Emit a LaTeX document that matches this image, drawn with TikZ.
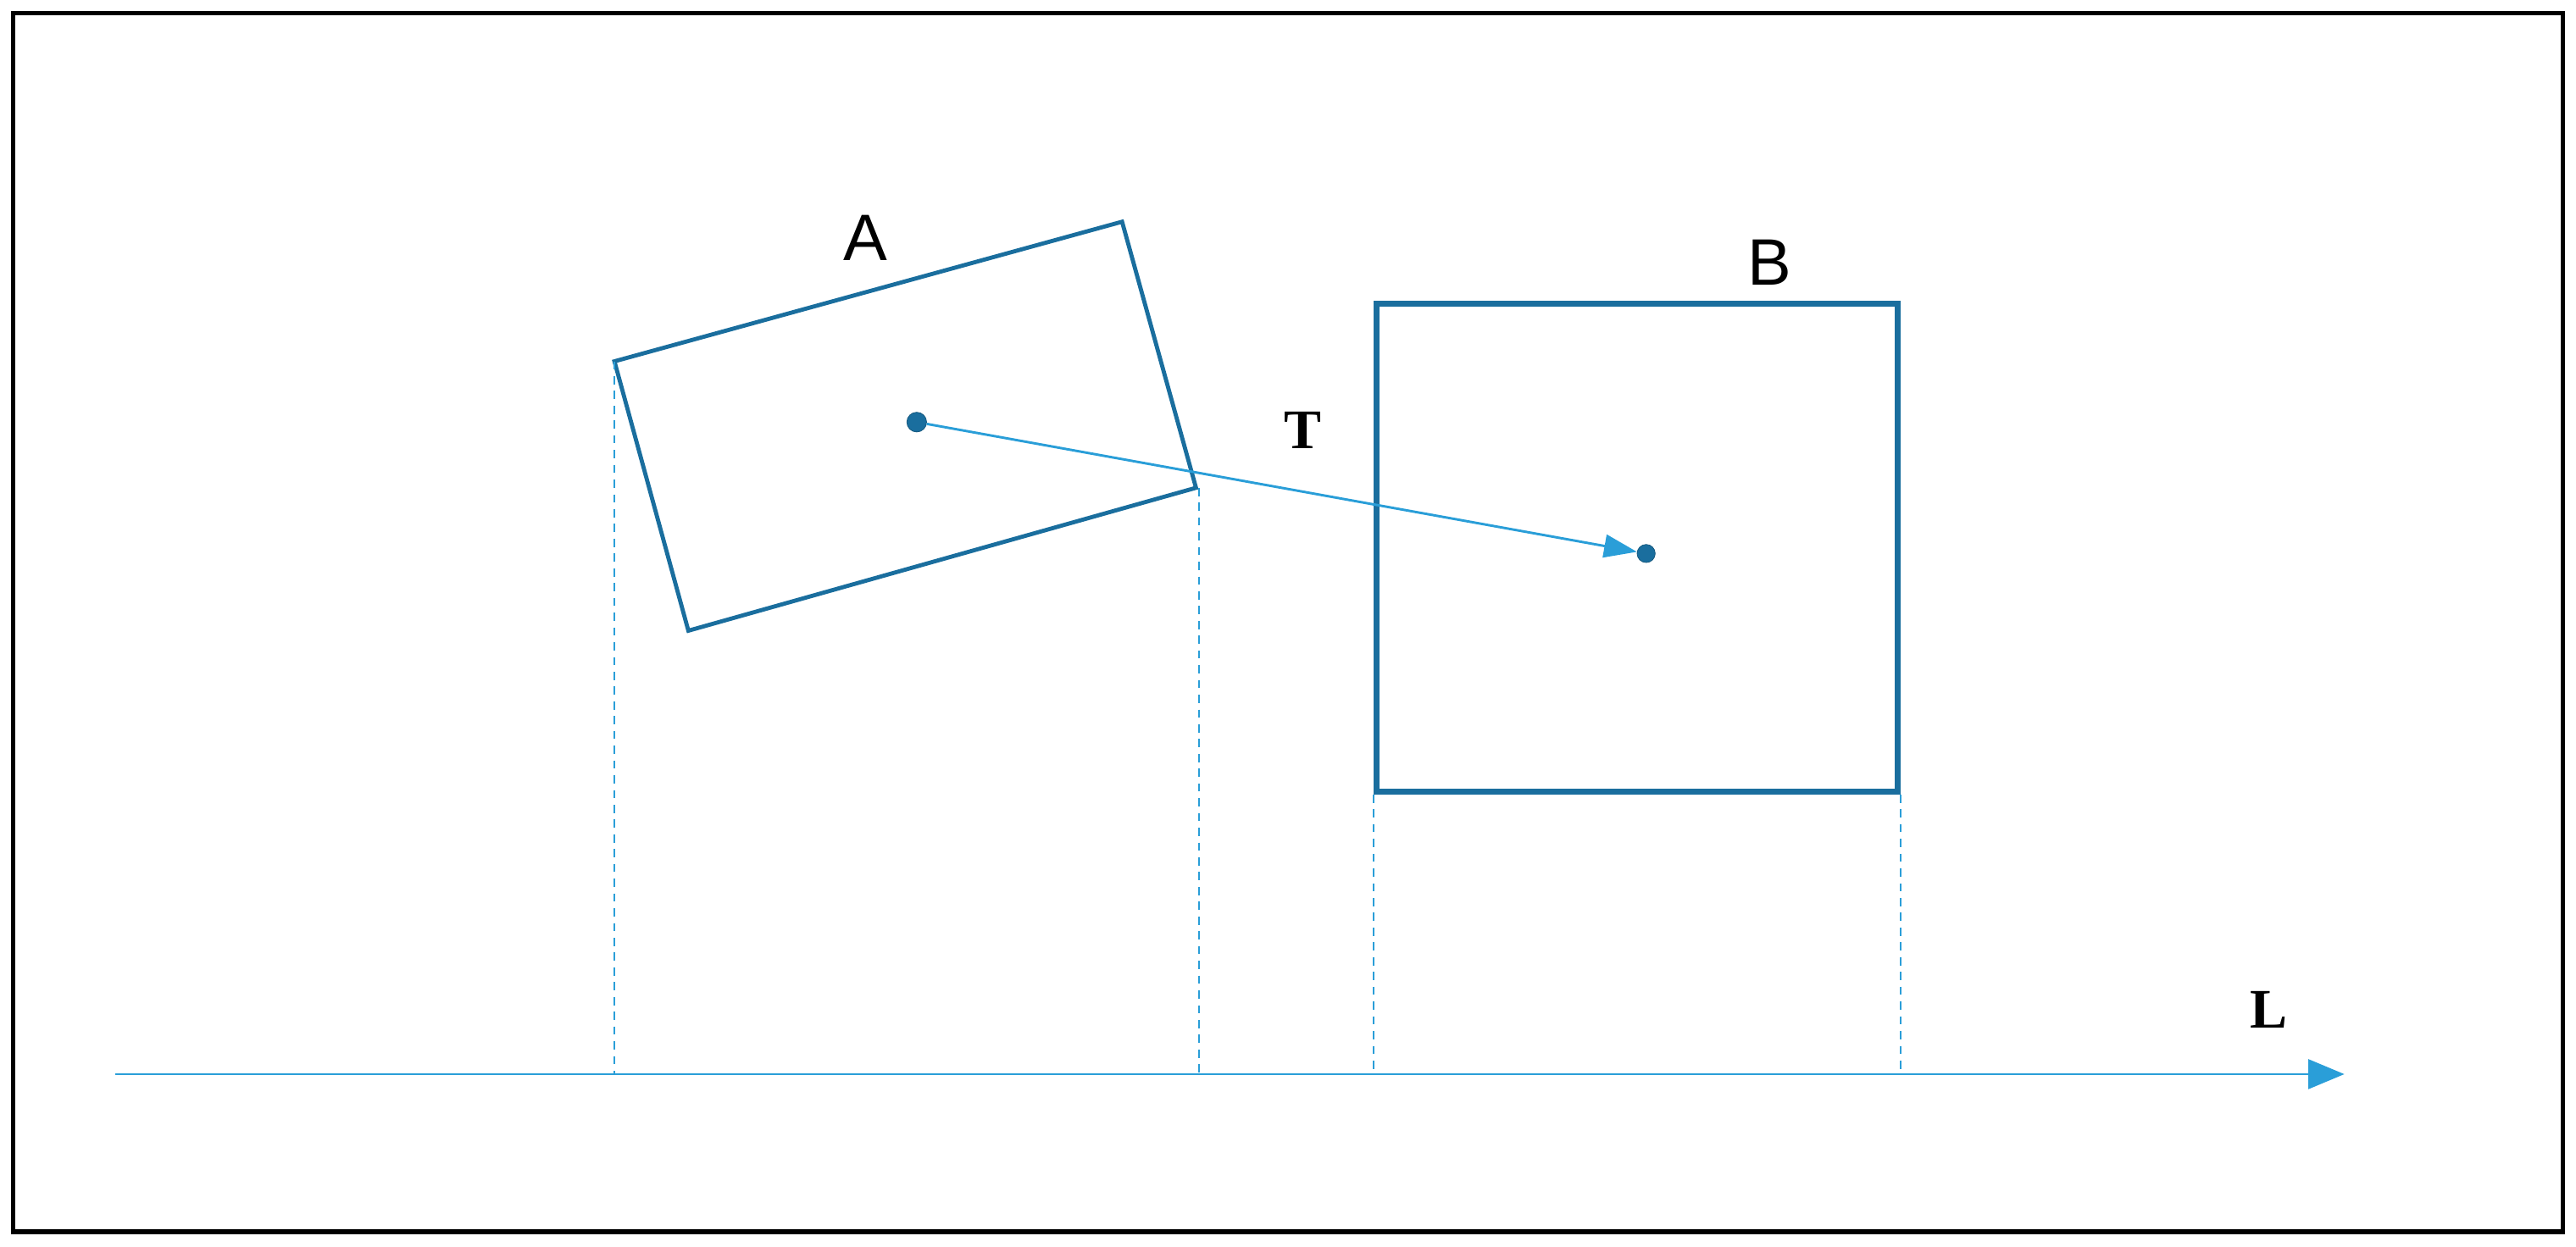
\documentclass[tikz,border=0pt]{standalone}
\usepackage{fontspec}
\setmainfont{Liberation Sans}
\newfontfamily\serifb{Liberation Serif}
\usetikzlibrary{arrows.meta}
\definecolor{dk}{HTML}{1A6E9E}
\definecolor{lt}{HTML}{2A9ED8}
\begin{document}
\begin{tikzpicture}[x=1pt,y=-1pt,
  proj/.style={lt,line width=1.2pt,dash pattern=on 5pt off 4pt},
  dot/.style={circle,fill=dk,draw=dk!80!black,inner sep=0pt,minimum size=12pt},
  lab/.style={font=\fontsize{40}{40}\selectfont},
  blab/.style={font=\serifb\bfseries\fontsize{34}{34}\selectfont}]
\useasboundingbox (0,0) rectangle (1568,759);
\draw[line width=3pt] (8,8) rectangle (1560,750);
\coordinate (a1) at (374,220); \coordinate (a2) at (683,135);
\coordinate (a3) at (728,297); \coordinate (a4) at (419,384);
\draw[dk,line width=2.5pt] (a1)--(a2)--(a3)--(a4)--cycle;
\node[draw=dk,line width=3.5pt,minimum width=317pt,minimum height=297pt,inner sep=0pt] (B) at (996.5,333.5) {};
\node[dot] (ca) at (558,257) {};
\node[dot,minimum size=11pt] (cb) at (1002,337) {};
\draw[lt,line width=1.5pt,-{Triangle[length=20pt,width=14pt]}] (ca) -- (cb);
\coordinate (s) at (70,654); \coordinate (e) at (1427,654);
\draw[lt,line width=1.5pt,-{Triangle[length=22pt,width=18pt]}] (s) -- (e);
\coordinate (p1) at (374,654); \coordinate (p2) at (730,654);
\coordinate (q2) at (730,297);
\draw[proj] (a1) -- (p1);
\draw[proj] (q2) -- (p2);
\draw[proj] (B.south west) -- (B.south west |- s);
\draw[proj] (B.south east) -- (B.south east |- s);
\node[lab] (la) at (527,145) {A};
\node[lab] (lb) at (1077,160) {B};
\node[blab] (lt) at (793,262) {T};
\node[blab] (ll) at (1381,615) {L};
\end{tikzpicture}
\end{document}
